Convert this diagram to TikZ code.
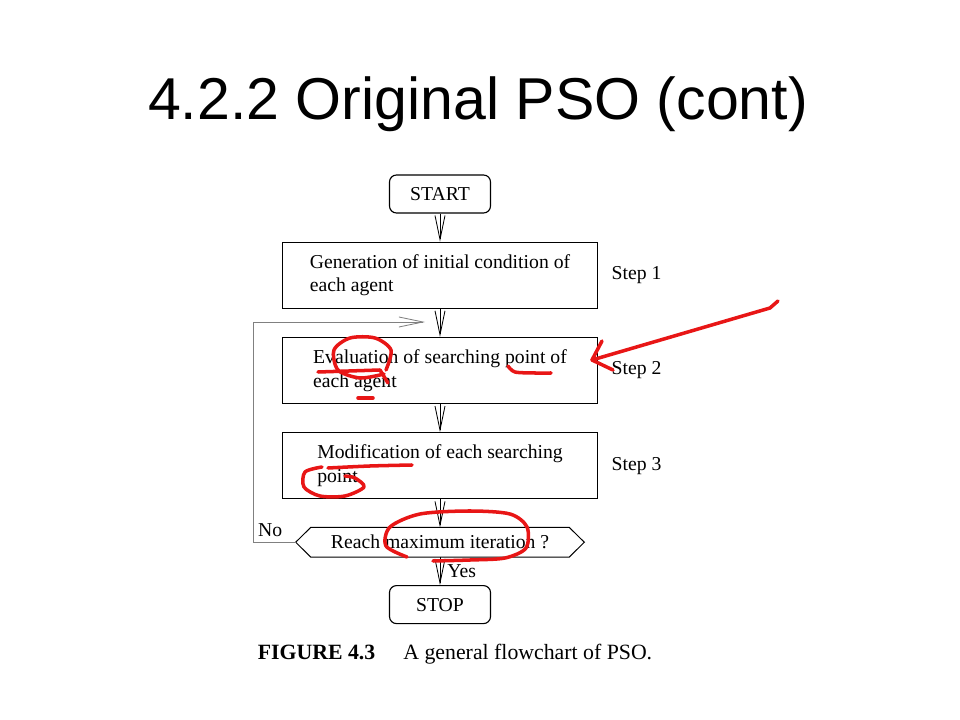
\documentclass[tikz,border=0pt]{standalone}
\usepackage{fontspec}
\setmainfont{Liberation Serif}
\newfontfamily\slidefont{Liberation Sans}
\usepackage{tikz}
\usetikzlibrary{positioning,arrows.meta}
\definecolor{pen}{RGB}{232,22,22}

\begin{document}
\begin{tikzpicture}[x=0.025cm, y=-0.025cm, node distance=0.7cm,
  >={Straight Barb[length=0.6cm,width=0.25cm]},
  every node/.style={font=\fontsize{14}{17}\selectfont},
  term/.style={draw, line width=0.8pt, rounded corners=5pt, minimum width=2.525cm, minimum height=0.95cm},
  proc/.style={draw, line width=0.9pt, align=left, minimum width=7.875cm, minimum height=1.65cm},
  test/.style={minimum width=7.2cm, minimum height=0.725cm, inner sep=0pt},
  stepno/.style={inner sep=0pt},
  scribble/.style={draw=pen, line width=2.5pt, line cap=round, line join=round}]
  \useasboundingbox (0,0) rectangle (960,720);
  \node (title) [font=\slidefont\fontsize{42}{50}\selectfont, anchor=base] at (478,120) {4.2.2 Original PSO (cont)};

  \node (start) [term] at (440,194) {START};
  \node (init) [proc, below=of start] {Generation of initial condition of\\ each agent};
  \node (eval) [proc, below=of init] {Evaluation of searching point of\\ each agent};
  \node (move) [proc, below=of eval] {Modification of each searching\\ point};
  \node (check) [test, below=of move] {Reach maximum iteration ?};
  \node (stop) [term, below=of check] {STOP};
  \node (s1) [stepno, right=0.33cm of init] {Step 1};
  \node (s2) [stepno, right=0.33cm of eval] {Step 2};
  \node (s3) [stepno, right=0.33cm of move] {Step 3};
  \draw[line width=0.7pt] (check.west) -- ([xshift=0.375cm]check.north west) -- ([xshift=-0.375cm]check.north east)
    -- (check.east) -- ([xshift=-0.375cm]check.south east) -- ([xshift=0.375cm]check.south west) -- cycle;

  \path[->, line width=0.6pt]
  (start) edge (init)
  (init)  edge (eval)
  (eval)  edge (move)
  (move)  edge (check)
  (check) edge node [right, inner sep=5pt] {Yes} (stop)
          ;
  \coordinate (turn) at (253,322);
  \coordinate (back) at (425,322);
  \draw[->, gray, line width=0.6pt] (check.west) -| node [pos=0.3, above, text=black] {No} (turn) -- (back);
  \node (cap) [font=\fontsize{15.5}{18}\selectfont] at (455,654) {\textbf{FIGURE 4.3}\hspace{20pt}A general flowchart of PSO.};

  % pen marks
  \draw[scribble] (778,301) -- (770,308) -- (592,360) -- (602,341);
  \draw[scribble] (592,360) -- (613,370);
  \draw[scribble] plot[smooth] coordinates {(386,370) (391,350) (375,338) (350,338) (334,350) (338,370) (360,378) (384,374)};
  \draw[scribble] (318,372) -- (380,370) -- (388,383);
  \draw[scribble] (358,398) -- (373,398);
  \draw[scribble] plot[smooth] coordinates {(508,366) (515,372) (535,373) (551,373)};
  \draw[scribble] plot[smooth] coordinates {(328,468) (370,466) (412,465)};
  \draw[scribble] plot[smooth] coordinates {(322,467) (305,472) (304,487) (320,496) (345,496) (364,487) (355,478) (345,476)};
  \draw[scribble] plot[smooth] coordinates {(407,557) (386,546) (390,527) (420,514) (470,511) (510,514) (527,527) (526,548) (505,558) (470,560) (433,561)};
\end{tikzpicture}
\end{document}
